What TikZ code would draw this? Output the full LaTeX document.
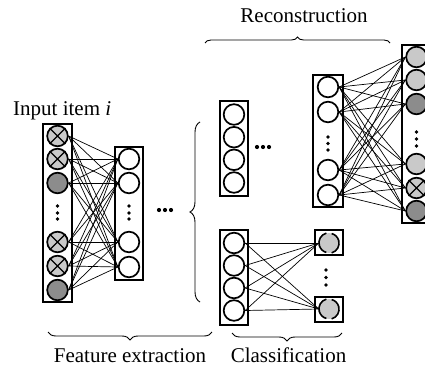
\documentclass[tikz,border=0pt]{standalone}
\usepackage{fontspec}
\setmainfont{Liberation Serif}
\usetikzlibrary{decorations.pathreplacing}
\definecolor{litefill}{gray}{0.79}
\definecolor{darkfill}{gray}{0.55}
\begin{document}
\begin{tikzpicture}[x=1pt,y=-1pt,
  neuron/.style={circle,draw,line width=1.7pt,minimum size=20.6pt,inner sep=0pt,fill=white},
  lite/.style={neuron,fill=litefill},
  dark/.style={neuron,fill=darkfill},
  layer/.style={draw,line width=2.3pt,inner sep=0pt,rectangle},
  link/.style={line width=0.7pt},
  vdot/.style={circle,fill,inner sep=0pt,minimum size=3.6pt},
  hdot/.style={circle,fill,inner sep=0pt,minimum size=4.2pt},
  brc/.style={decorate,decoration={brace,amplitude=#1},line width=0.9pt},
  brc/.default=7pt,
  lbl/.style={font=\fontsize{21}{25}\selectfont,inner sep=0pt}
]
\useasboundingbox (0,0) rectangle (425,369);

% ---- layer frames ----
\node[layer,minimum width=29pt,minimum height=178pt] (boxA) at (57.5,213) {};
\node[layer,minimum width=28pt,minimum height=133pt] (boxB) at (129,213.5) {};
\node[layer,minimum width=28pt,minimum height=95pt]  (boxC) at (234,148.5) {};
\node[layer,minimum width=30pt,minimum height=132pt] (boxD) at (328,141) {};
\node[layer,minimum width=29pt,minimum height=178pt] (boxE) at (416.5,134) {};
\node[layer,minimum width=28pt,minimum height=95pt]  (boxF) at (234,277.5) {};
\node[layer,minimum width=28pt,minimum height=25pt]  (boxG1) at (329,242.5) {};
\node[layer,minimum width=28pt,minimum height=25pt]  (boxG2) at (329,309.5) {};

% ---- input layer ----
\foreach \n/\y/\s in {1/136/lite,2/159/lite,3/183/dark,4/242/lite,5/266/lite,6/290/dark}
  \node[\s] (a\n) at (57.5,\y) {};
\foreach \n in {1,2,4,5}
  \draw[line width=1.4pt] (a\n.north east) -- (a\n.south west) (a\n.north west) -- (a\n.south east);
\foreach \y [count=\k] in {206,213,219} \node[vdot] (ad\k) at (57.5,\y) {};

% ---- first hidden layer ----
\foreach \n/\y in {1/159,2/183,3/242,4/267}
  \node[neuron] (b\n) at (129,\y) {};
\foreach \y [count=\k] in {206,213,219} \node[vdot] (bd\k) at (129,\y) {};

% ---- code layers ----
\foreach \n/\y in {1/114.5,2/137.2,3/159.8,4/182.5}
  \node[neuron] (c\n) at (234,\y) {};
\foreach \n/\y in {1/243,2/265.5,3/288,4/310.5}
  \node[neuron] (f\n) at (234,\y) {};

% ---- decoder hidden layer ----
\foreach \n/\y in {1/87,2/112,3/170,4/195}
  \node[neuron] (d\n) at (328,\y) {};
\foreach \y [count=\k] in {137,143.5,150} \node[vdot] (dd\k) at (328,\y) {};

% ---- reconstructed output ----
\foreach \n/\y/\s in {1/57/lite,2/80/lite,3/104/dark,4/164/lite,5/188/lite,6/211/dark}
  \node[\s] (e\n) at (416.5,\y) {};
\draw[line width=1.4pt] (e5.north east) -- (e5.south west) (e5.north west) -- (e5.south east);
\foreach \y [count=\k] in {132,139,146} \node[vdot] (ed\k) at (416.5,\y) {};

% ---- class outputs ----
\foreach \n/\y in {1/243,2/309}{
  \node[circle,fill=litefill,minimum size=20pt,inner sep=0pt] (g\n) at (329,\y) {};
  \draw[line width=1.6pt] (g\n.105) arc[start angle=105,end angle=255,radius=10pt];
  \draw[line width=1.6pt] (g\n.-75) arc[start angle=-75,end angle=75,radius=10pt];
}
\foreach \y [count=\k] in {270,277.5,285} \node[vdot] (gd\k) at (326,\y) {};

% ---- horizontal ellipses ----
\foreach \x [count=\k] in {159,165,171} \node[hdot] (h\k) at (\x,210) {};
\foreach \x [count=\k] in {257,263,269} \node[hdot] (hh\k) at (\x,147) {};

% ---- full connections ----
\foreach \i in {1,...,6} \foreach \j in {1,...,4}
  \draw[link] (a\i.east) -- (b\j.west);
\foreach \i in {1,...,4} \foreach \j in {1,...,6}
  \draw[link] (d\i.east) -- (e\j.west);
\foreach \i in {1,...,4} \foreach \j in {1,2}
  \draw[link] (f\i.east) -- (g\j.west);

% ---- braces ----
\draw[brc=6pt] (205,43) -- (390,43);
\draw[brc=10pt] (200,302) -- (200,122);
\draw[brc=8pt] (212,332) -- (48,332);
\draw[brc=8pt] (342,333) -- (232,333);

% ---- labels ----
\node[lbl,anchor=base] (rec) at (304,23) {Reconstruction};
\node[lbl,anchor=base west] (inp) at (13,115) {Input item \textit{i}};
\node[lbl,anchor=base] (fe) at (130,362) {Feature extraction};
\node[lbl,anchor=base] (cl) at (288.5,362) {Classification};
\end{tikzpicture}
\end{document}
